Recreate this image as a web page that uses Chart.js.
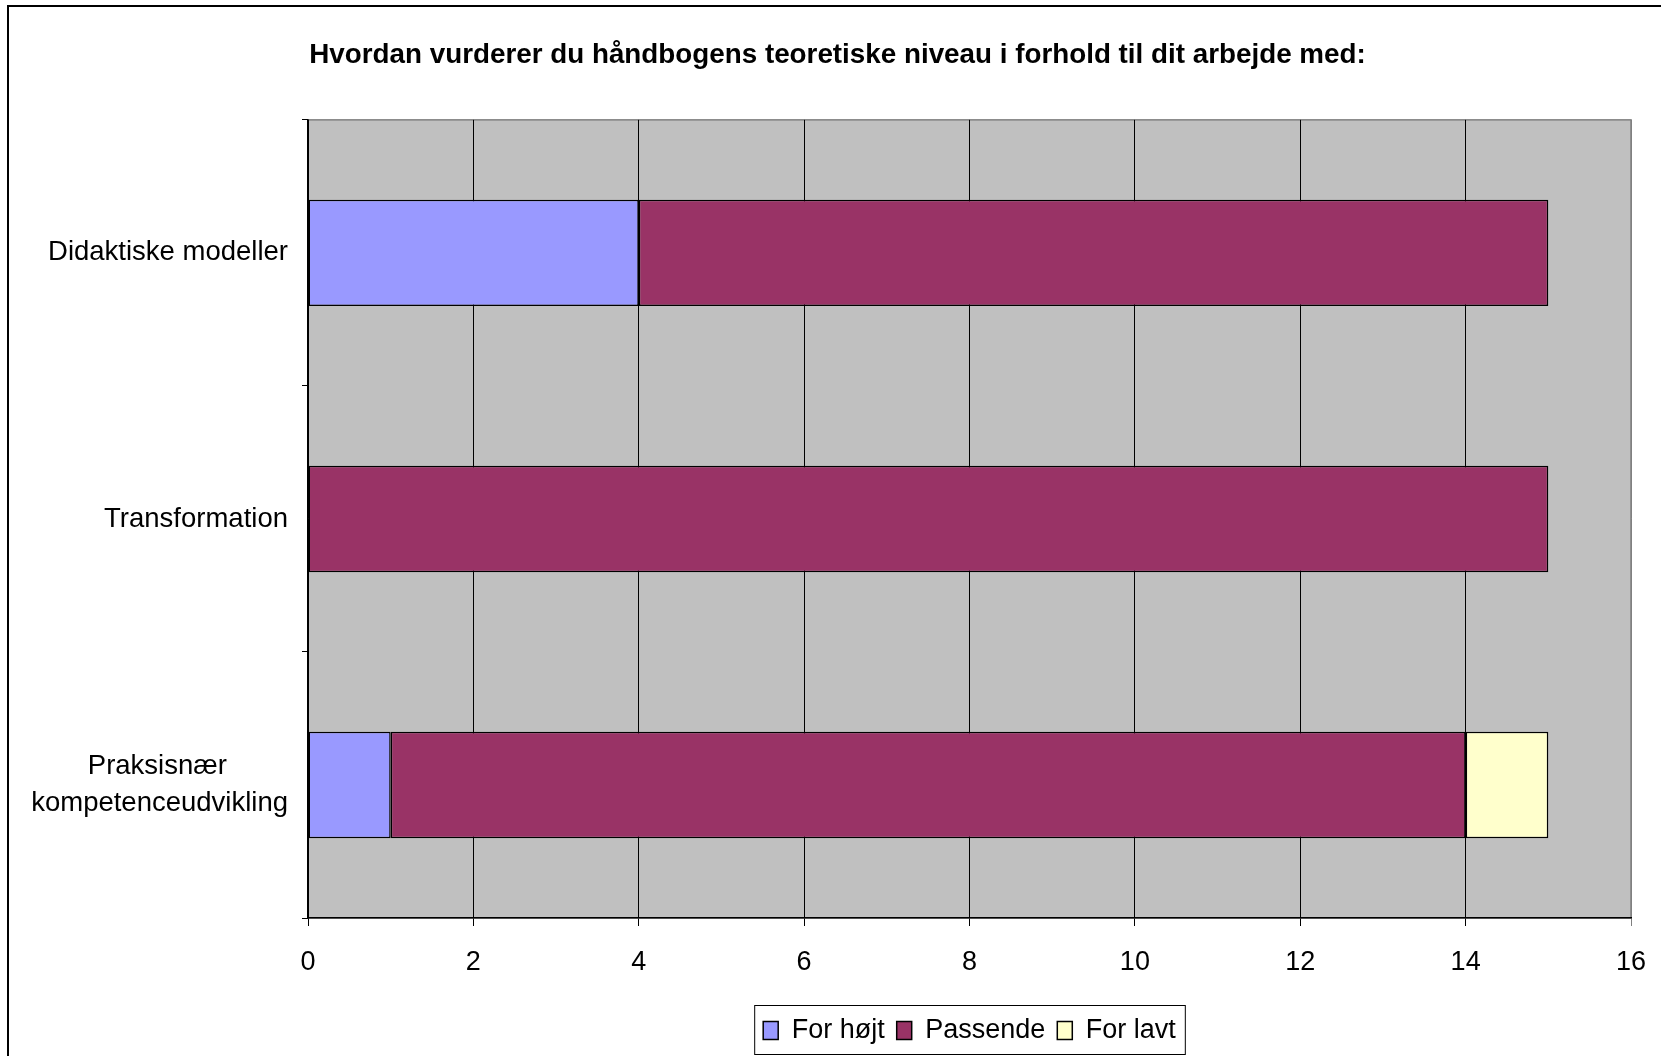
<!DOCTYPE html>
<html lang="da">
<head>
    <meta charset="UTF-8">
    <title>Håndbogens teoretiske niveau</title>
    <script src="https://cdn.jsdelivr.net/npm/chart.js"></script>
    <style>
        body {
            margin: 0;
            background: #fff;
            overflow: hidden;
        }
        .frame {
            position: absolute;
            left: 7px;
            top: 5px;
            width: 1700px;
            height: 1100px;
            border-left: 2px solid #000;
            border-top: 2px solid #000;
        }
        .wrap {
            position: absolute;
            left: 0;
            top: 0;
            width: 1661px;
            height: 1056px;
        }
    </style>
</head>
<body>
    <div class="frame"></div>
    <div class="wrap">
        <canvas id="chart"></canvas>
    </div>
    <script>
        const titleText = 'Hvordan vurderer du håndbogens teoretiske niveau i forhold til dit arbejde med:';
        const categories = [
            'Didaktiske modeller',
            'Transformation',
            ['Praksisnær', 'kompetenceudvikling']
        ];
        const seriesNames = ['For højt', 'Passende', 'For lavt'];
        const forHojt = [4, 0, 1];
        const passende = [11, 15, 13];
        const forLavt = [0, 0, 1];
        const xTicks = [0, 2, 4, 6, 8, 10, 12, 14, 16];

        const labelFont = '"Liberation Sans", Arial, sans-serif';
        const catFontSize = 27.5;

        // centre the lines of a two-line label against each other (Excel does that)
        const measure = document.createElement('canvas').getContext('2d');
        measure.font = catFontSize + 'px ' + labelFont;
        function centreLines(label) {
            if (!Array.isArray(label)) return label;
            const widths = label.map(l => measure.measureText(l).width);
            const maxW = Math.max(...widths);
            const sp = measure.measureText('\u00a0').width;
            return label.map((l, i) => l + '\u00a0'.repeat(Math.round((maxW - widths[i]) / 2 / sp)));
        }

        const plotBackground = {
            id: 'plotBackground',
            beforeDraw(chart) {
                const { ctx, chartArea: a } = chart;
                ctx.save();
                ctx.fillStyle = '#c0c0c0';
                ctx.fillRect(a.left, a.top, a.right - a.left, a.bottom - a.top);
                ctx.strokeStyle = '#808080';
                ctx.lineWidth = 1.5;
                ctx.strokeRect(a.left, a.top, a.right - a.left, a.bottom - a.top);
                ctx.restore();
            }
        };

        // title and legend are centred on the plot area, not on the canvas
        const centreOnPlot = {
            id: 'centreOnPlot',
            afterLayout(chart) {
                const a = chart.chartArea;
                const t = chart.titleBlock;
                t.left += 17;
                t.right += 17;
                const lg = chart.legend;
                lg.left = a.left;
                lg.right = a.right;
                lg.width = a.right - a.left;
            }
        };

        const legendFrame = {
            id: 'legendFrame',
            afterDraw(chart) {
                const boxes = chart.legend.legendHitBoxes;
                if (!boxes || !boxes.length) return;
                const left = Math.min(...boxes.map(b => b.left)) - 9;
                const right = Math.max(...boxes.map(b => b.left + b.width)) + 9;
                const top = Math.min(...boxes.map(b => b.top)) - 12;
                const bottom = Math.max(...boxes.map(b => b.top + b.height)) + 10;
                const ctx = chart.ctx;
                ctx.save();
                ctx.strokeStyle = '#000';
                ctx.lineWidth = 1;
                ctx.strokeRect(left + 0.5, top + 0.5, right - left, bottom - top);
                ctx.restore();
            }
        };

        Chart.defaults.color = '#000';
        Chart.defaults.font.family = labelFont;

        new Chart(document.getElementById('chart'), {
            type: 'bar',
            data: {
                labels: categories.map(centreLines),
                datasets: [
                    { label: seriesNames[0], data: forHojt, backgroundColor: '#9999ff' },
                    { label: seriesNames[1], data: passende, backgroundColor: '#993366' },
                    { label: seriesNames[2], data: forLavt, backgroundColor: '#ffffcc' }
                ].map(d => Object.assign(d, {
                    borderColor: '#000',
                    borderWidth: 1.5,
                    borderSkipped: false,
                    barPercentage: 0.4,
                    categoryPercentage: 1
                }))
            },
            options: {
                indexAxis: 'y',
                responsive: true,
                maintainAspectRatio: false,
                animation: false,
                layout: { padding: { left: 10, right: 30, top: 0, bottom: 2 } },
                scales: {
                    x: {
                        stacked: true,
                        min: 0,
                        max: 16,
                        afterBuildTicks: s => { s.ticks = xTicks.map(v => ({ value: v })); },
                        afterFit: s => {
                            s.height = 87;
                            s.paddingLeft = 0;
                            s.paddingRight = 0;
                        },
                        ticks: { font: { size: 27 }, padding: 20 },
                        grid: {
                            color: c => c.tick && c.tick.value === 16 ? '#808080' : '#000',
                            lineWidth: 1,
                            tickLength: 8
                        },
                        border: { color: '#000', width: 1.5 }
                    },
                    y: {
                        stacked: true,
                        afterFit: s => { s.width = 298; },
                        ticks: { font: { size: catFontSize, lineHeight: 1.36 }, padding: 14 },
                        grid: { drawOnChartArea: false, color: '#000', tickLength: 6 },
                        border: { color: '#000', width: 1.5 }
                    }
                },
                plugins: {
                    title: {
                        display: true,
                        text: titleText,
                        font: { size: 27.8, weight: 'bold' },
                        padding: { top: 38.5, bottom: 48 }
                    },
                    legend: {
                        position: 'bottom',
                        labels: {
                            font: { size: 27 },
                            boxWidth: 15,
                            boxHeight: 18,
                            padding: 12
                        }
                    },
                    tooltip: { enabled: false }
                }
            },
            plugins: [plotBackground, centreOnPlot, legendFrame]
        });
    </script>
</body>
</html>
